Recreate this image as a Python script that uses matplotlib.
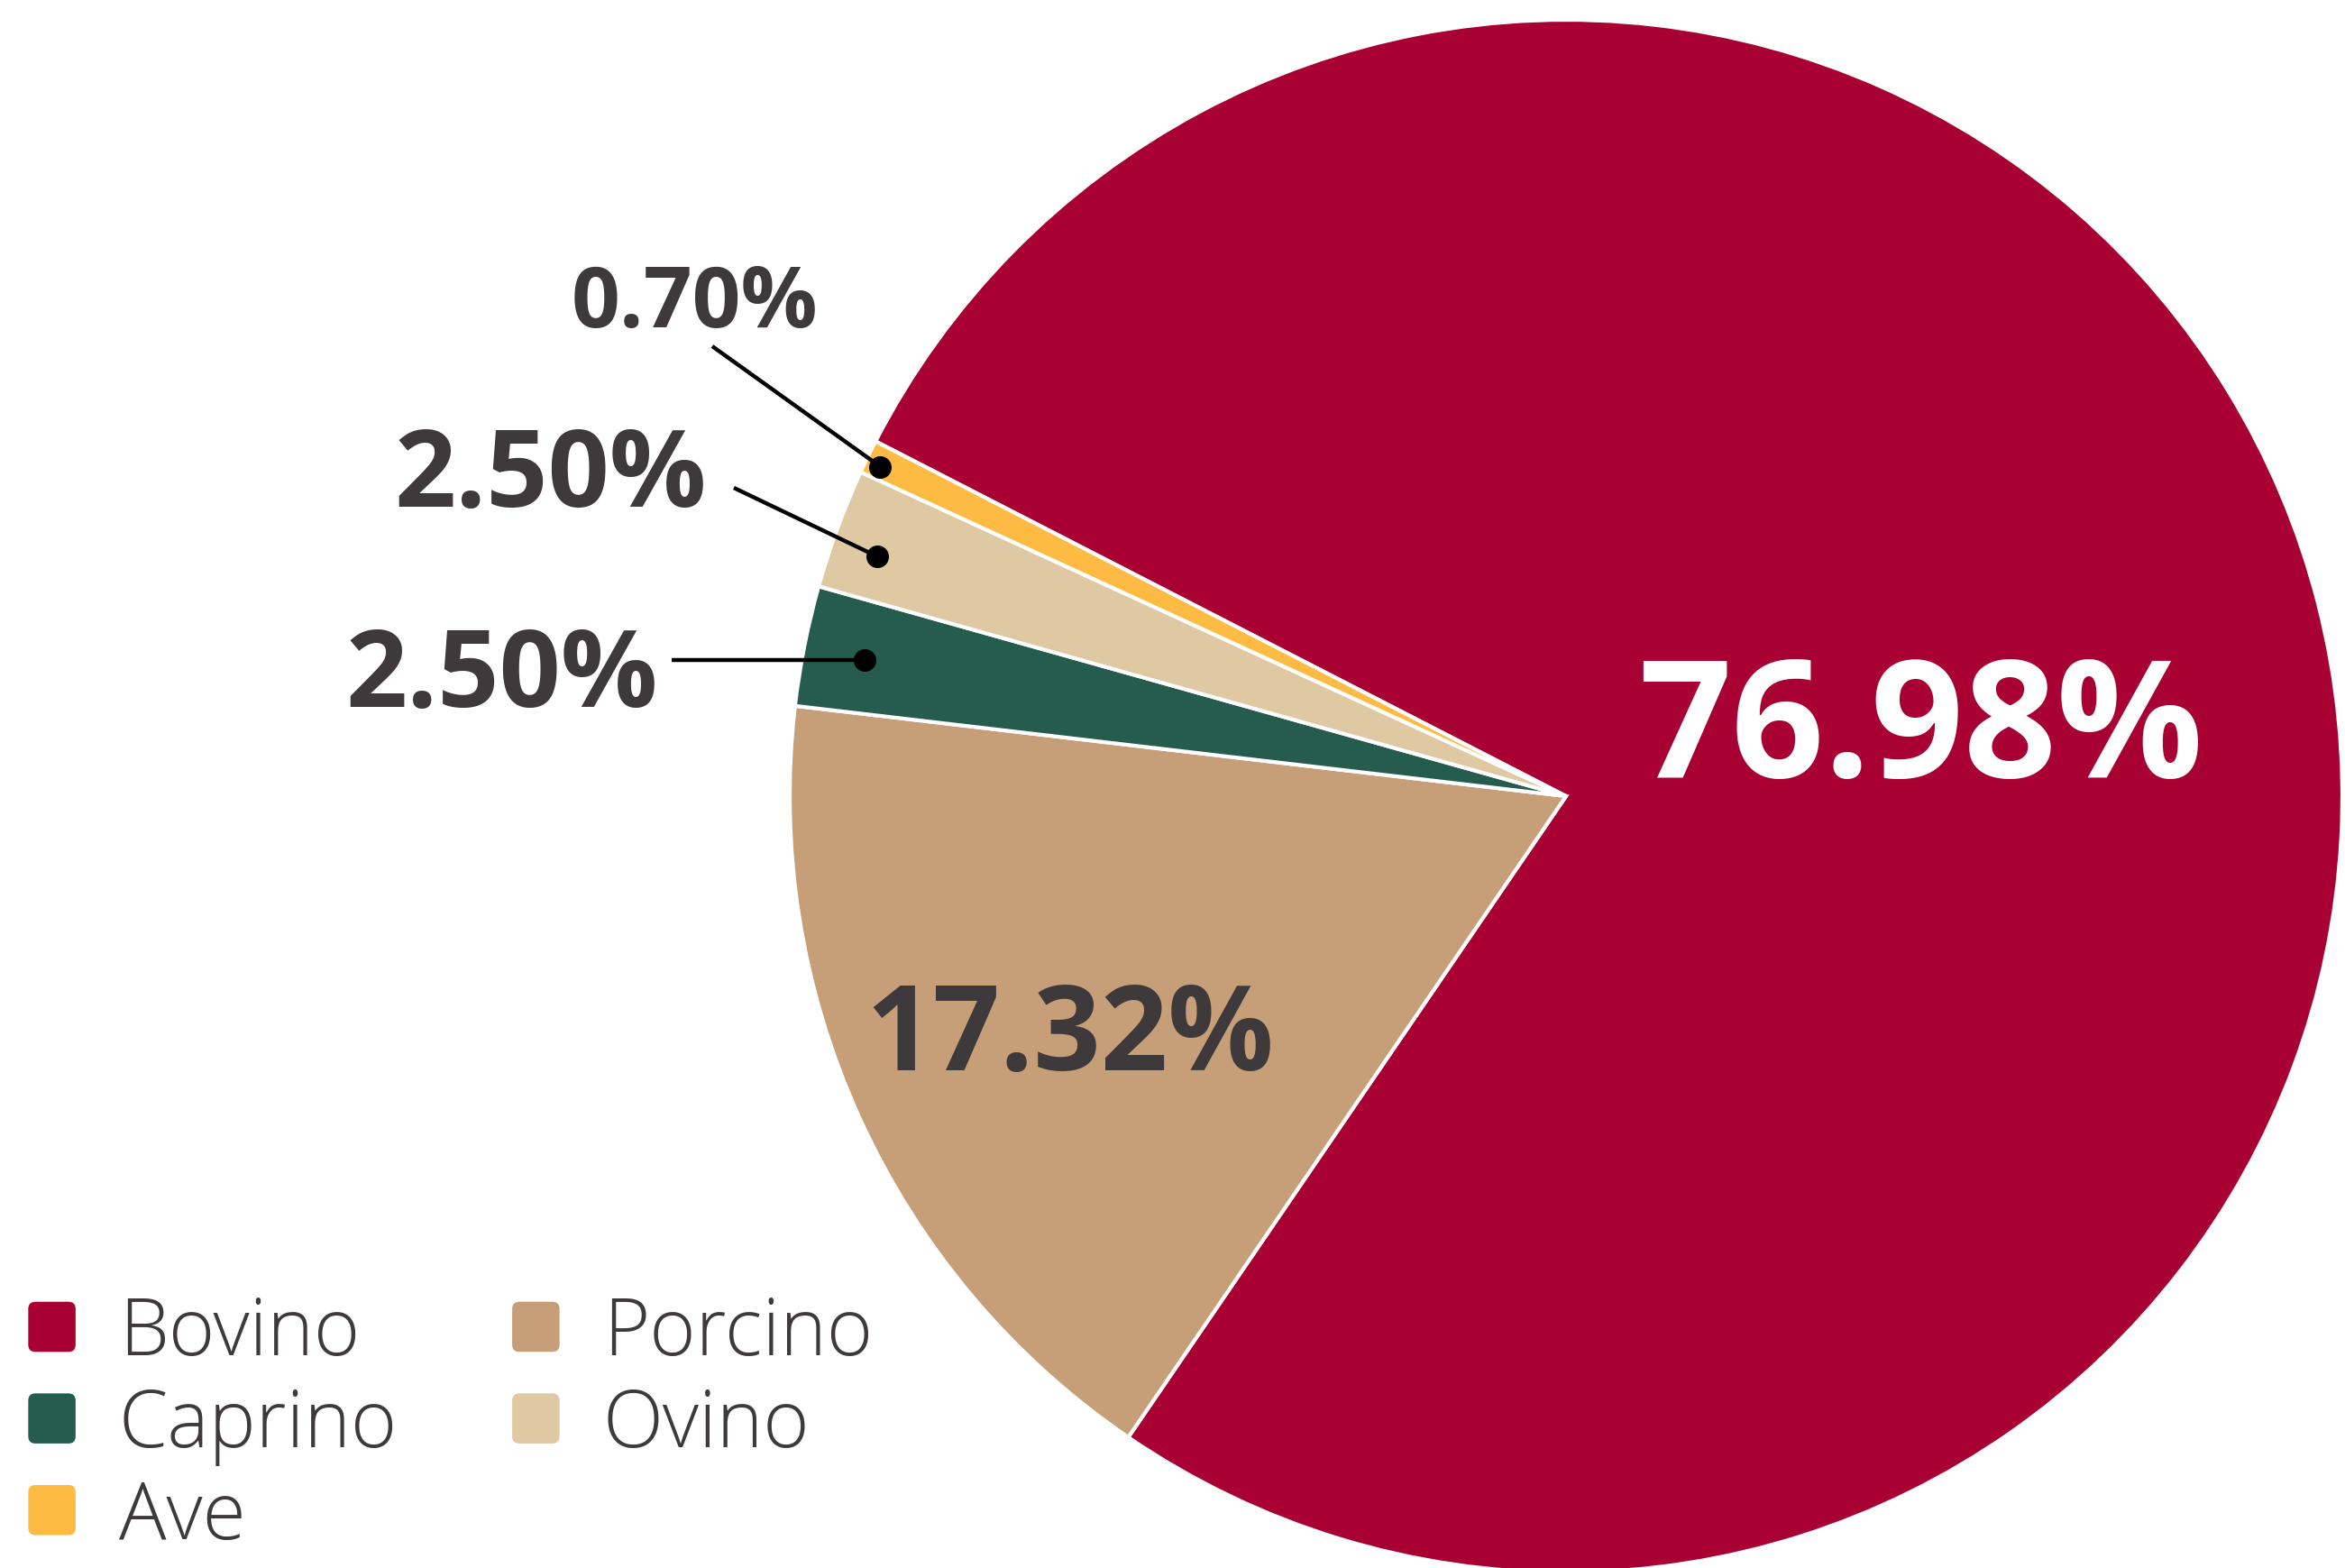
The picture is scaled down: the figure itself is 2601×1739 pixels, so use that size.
import numpy as np
import matplotlib.pyplot as plt
from matplotlib.patches import Patch, FancyBboxPatch
from matplotlib.legend_handler import HandlerPatch

# Data
categories = ["Bovino", "Porcino", "Caprino", "Ovino", "Ave"]
shares = [76.98, 17.32, 2.50, 2.50, 0.70]
colors = ["#A80032", "#C69F78", "#255C4E", "#DFC9A3", "#FDBB43"]
text_color = "#3E393A"

W, H = 2601, 1740
fig = plt.figure(figsize=(W / 100, H / 100), dpi=100)
ax = fig.add_axes([0, 0, 1, 1])

cx, cy, R = 1737, 856, 861
start = 152.8
wedges, _ = ax.pie(shares, colors=colors, startangle=start, counterclock=False,
                   center=(cx, cy), radius=R,
                   wedgeprops=dict(edgecolor="white", linewidth=3))
ax.set_xlim(0, W)
ax.set_ylim(0, H)
ax.set_aspect("equal")
ax.axis("off")

font = "Open Sans"

# labels inside the two big wedges
ax.text(2130, 925, f"{shares[0]:.2f}%", color="white", fontsize=130,
        fontweight="bold", family=font, ha="center", va="center")
ax.text(1187, 587, f"{shares[1]:.2f}%", color=text_color, fontsize=94,
        fontweight="bold", family=font, ha="center", va="center")

# outer labels with leader lines for the small wedges
# (index, position along wedge, radius fraction, line start x, line start y, label center, fontsize)
outer = [
    (2, 0.52, 0.92, 745, None, (557, 987), 86),
    (3, 0.61, 0.94, 814, 1198, (611, 1209), 86),
    (4, 0.61, 0.98, 790, 1355, (770, 1401), 68),
]
for i, t, rf, lx, ly, lpos, fs in outer:
    w = wedges[i]
    ang = np.deg2rad(w.theta1 + t * (w.theta2 - w.theta1))
    px = cx + rf * R * np.cos(ang)
    py = cy + rf * R * np.sin(ang)
    if ly is None:
        ly = py
    ax.plot([lx, px], [ly, py], color="black", lw=3.2, solid_capstyle="butt")
    ax.plot(px, py, "o", color="black", markersize=17)
    ax.text(lpos[0], lpos[1], f"{shares[i]:.2f}%", color=text_color, fontsize=fs,
            fontweight="bold", family=font, ha="center", va="center")


class RoundedHandler(HandlerPatch):
    def create_artists(self, legend, orig_handle, xdescent, ydescent, width,
                       height, fontsize, trans):
        p = FancyBboxPatch((-xdescent, -ydescent), width, height,
                           boxstyle=f"round,pad=0,rounding_size={width * 0.15}",
                           facecolor=orig_handle.get_facecolor(),
                           edgecolor="none", transform=trans)
        return [p]


# legend, filled column-wise: Bovino, Caprino, Ave | Porcino, Ovino
order = [0, 2, 4, 1, 3]
handles = [Patch(facecolor=colors[k], edgecolor="none") for k in order]
labels = [categories[k] for k in order]
leg = fig.legend(handles, labels, loc="upper left", bbox_to_anchor=(-0.0115, 0.210),
                 ncol=2, frameon=False, handlelength=0.6,
                 handleheight=0.6, handletextpad=0.55, columnspacing=1.45,
                 labelspacing=0.15, borderpad=0.2,
                 handler_map={Patch: RoundedHandler()},
                 prop=dict(family=font, weight="light", size=63))
for txt in leg.get_texts():
    txt.set_color(text_color)

fig.savefig("out.png", dpi=100)
